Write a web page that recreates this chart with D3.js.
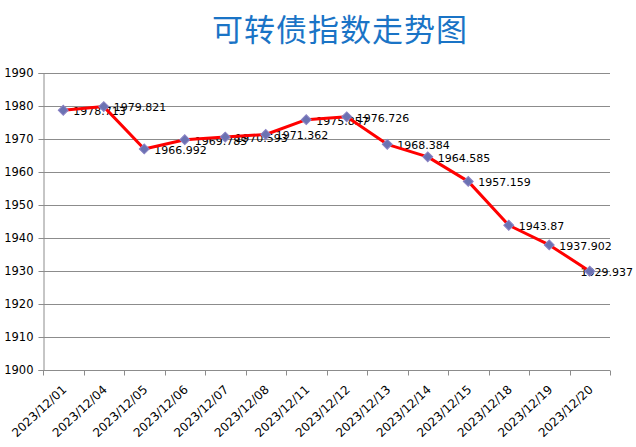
<!DOCTYPE html>
<html>
<head>
<meta charset="utf-8">
<script src="https://cdn.jsdelivr.net/npm/d3@7"></script>
<style>
  body { margin: 0; background: #fff; }
  text { font-family: "DejaVu Sans", sans-serif; }
</style>
</head>
<body>
<div id="chart"></div>
<script>
// chart data
const titleText = "可转债指数走势图";
const dates = ["2023/12/01", "2023/12/04", "2023/12/05", "2023/12/06", "2023/12/07",
  "2023/12/08", "2023/12/11", "2023/12/12", "2023/12/13", "2023/12/14",
  "2023/12/15", "2023/12/18", "2023/12/19", "2023/12/20"];
const indexValues = [1978.713, 1979.821, 1966.992, 1969.785, 1970.593, 1971.362, 1975.857,
  1976.726, 1968.384, 1964.585, 1957.159, 1943.87, 1937.902, 1929.937];
const yTicks = [1900, 1910, 1920, 1930, 1940, 1950, 1960, 1970, 1980, 1990];

const width = 636, height = 447;
const margin = {top: 73, right: 26, bottom: 77, left: 43};

const svg = d3.select("#chart").append("svg")
    .attr("width", width)
    .attr("height", height);

const x = d3.scaleBand()
    .domain(dates)
    .range([margin.left, width - margin.right]);

const y = d3.scaleLinear()
    .domain([1900, 1990])
    .range([height - margin.bottom, margin.top]);

// title
svg.append("text")
    .attr("x", 340)
    .attr("y", 41)
    .attr("text-anchor", "middle")
    .style("font-family", '"Noto Sans CJK SC", sans-serif')
    .style("font-size", "31px")
    .style("letter-spacing", "1px")
    .attr("fill", "#1a74c6")
    .text(titleText);

// gridlines
svg.append("g")
    .selectAll("line")
    .data(yTicks.filter(d => d !== 1900))
    .join("line")
    .attr("x1", margin.left)
    .attr("x2", width - margin.right)
    .attr("y1", d => Math.round(y(d)) + 0.5)
    .attr("y2", d => Math.round(y(d)) + 0.5)
    .attr("stroke", "#8c8c8c");

// y axis
const yAxis = svg.append("g")
    .attr("transform", `translate(${margin.left + 0.5},0)`)
    .call(d3.axisLeft(y).tickValues(yTicks).tickSize(5).tickPadding(5).tickFormat(d3.format("d")));
yAxis.select(".domain").attr("stroke", "#8c8c8c");
yAxis.selectAll(".tick line").attr("stroke", "#8c8c8c");
yAxis.selectAll(".tick text")
    .style("font-size", "11.5px")
    .attr("fill", "#000");

// x axis line and boundary ticks
const y0 = Math.round(y(1900)) + 0.5;
svg.append("line")
    .attr("x1", margin.left)
    .attr("x2", width - margin.right)
    .attr("y1", y0)
    .attr("y2", y0)
    .attr("stroke", "#8c8c8c");

const bounds = dates.map(d => x(d)).concat([x.range()[1]]);
svg.append("g")
    .selectAll("line")
    .data(bounds)
    .join("line")
    .attr("x1", d => Math.round(d) + 0.5)
    .attr("x2", d => Math.round(d) + 0.5)
    .attr("y1", y0)
    .attr("y2", y0 + 5)
    .attr("stroke", "#8c8c8c");

// x labels
svg.append("g")
    .selectAll("text")
    .data(dates)
    .join("text")
    .attr("text-anchor", "end")
    .attr("transform", d => `translate(${x(d) + x.bandwidth() / 2 + 4},${y0 + 20}) rotate(-43)`)
    .style("font-size", "12px")
    .attr("fill", "#000")
    .text(d => d);

const cx = (d, i) => x(dates[i]) + x.bandwidth() / 2;

// data labels (under the line), pulled back if they would run off the right edge
const labels = svg.append("g")
    .selectAll("text")
    .data(indexValues)
    .join("text")
    .attr("x", (d, i) => cx(d, i) + 10)
    .attr("y", d => y(d) + 1)
    .attr("dy", "0.35em")
    .style("font-size", "11px")
    .attr("fill", "#000")
    .text(d => d);

labels.each(function() {
    const box = this.getBBox();
    if (box.x + box.width > width - 3) {
        d3.select(this).attr("x", width - 3 - box.width);
    }
});

// line
const line = d3.line()
    .x((d, i) => cx(d, i))
    .y(d => y(d));

svg.append("path")
    .datum(indexValues)
    .attr("fill", "none")
    .attr("stroke", "#ff0000")
    .attr("stroke-width", 3)
    .attr("stroke-linejoin", "round")
    .attr("d", line);

// markers
svg.append("g")
    .selectAll("path")
    .data(indexValues)
    .join("path")
    .attr("transform", (d, i) => `translate(${cx(d, i)},${y(d)}) rotate(45)`)
    .attr("d", "M-3.5,-3.5H3.5V3.5H-3.5Z")
    .attr("fill", "#6b72b2")
    .attr("stroke", "#8a82c4")
    .attr("stroke-width", 1);
</script>
</body>
</html>
